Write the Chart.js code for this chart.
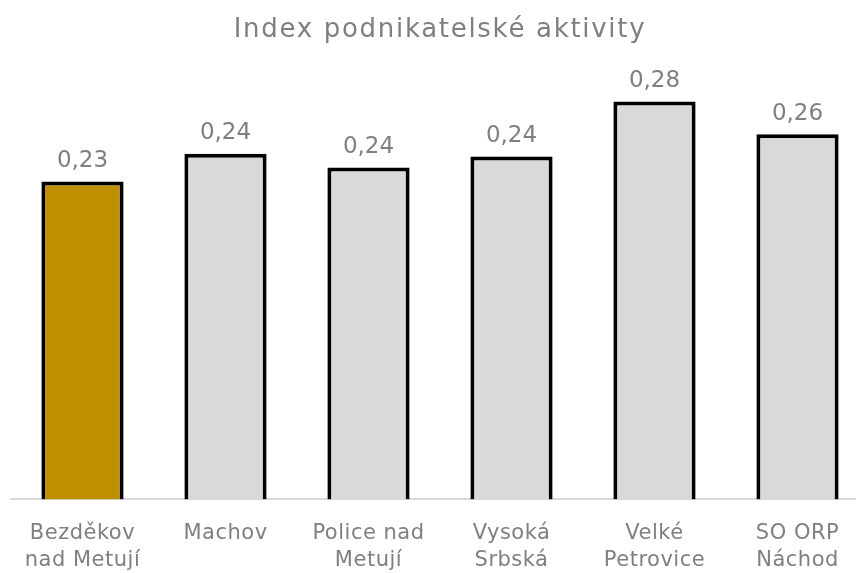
<!DOCTYPE html>
<html lang="en">

<head>
    <meta charset="UTF-8">
    <title>Index podnikatelské aktivity</title>
    <script src="https://cdn.jsdelivr.net/npm/chart.js@4.4.1/dist/chart.umd.min.js"></script>
    <style>
        html, body { margin: 0; padding: 0; overflow: hidden; background: #fff; }
        #wrap { width: 869px; height: 587px; }
    </style>
</head>

<body>
    <div id="wrap"><canvas id="chart"></canvas></div>
    <script>

        const chartTitle = "Index podnikatelské aktivity";
        const categories = [
            ["Bezděkov", "nad Metují"],
            ["Machov"],
            ["Police nad", "Metují"],
            ["Vysoká", "Srbská"],
            ["Velké", "Petrovice"],
            ["SO ORP", "Náchod"]
        ];
        const values = [0.2253, 0.2449, 0.2352, 0.2430, 0.2819, 0.2588];
        const barColors = ["#bf8f00", "#d9d9d9", "#d9d9d9", "#d9d9d9", "#d9d9d9", "#d9d9d9"];

        const textGray = "#7f7f7f";
        const fontFamily = "'DejaVu Sans', Verdana, sans-serif";

        // slightly wider text spacing for the axis labels, like the original
        const spacing = {
            id: "spacing",
            beforeDraw(chart) {
                chart.ctx.letterSpacing = "0.5px";
            }
        };

        // title drawn by hand so it can get its own letter spacing
        const titleText = {
            id: "titleText",
            afterDraw(chart) {
                const ctx = chart.ctx;
                const area = chart.chartArea;
                ctx.save();
                ctx.letterSpacing = "1.7px";
                ctx.font = "26px " + fontFamily;
                ctx.fillStyle = textGray;
                ctx.textAlign = "center";
                ctx.textBaseline = "alphabetic";
                ctx.fillText(chartTitle, (area.left + area.right) / 2, 37);
                ctx.restore();
            }
        };

        // value labels above the bars (no datalabels plugin available offline)
        const valueLabels = {
            id: "valueLabels",
            afterDatasetsDraw(chart) {
                const ctx = chart.ctx;
                const meta = chart.getDatasetMeta(0);
                ctx.save();
                ctx.letterSpacing = "0px";
                ctx.font = "23px " + fontFamily;
                ctx.fillStyle = textGray;
                ctx.textAlign = "center";
                ctx.textBaseline = "alphabetic";
                meta.data.forEach((bar, i) => {
                    const txt = values[i].toFixed(2).replace(".", ",");
                    ctx.fillText(txt, bar.x, bar.y - 14.5);
                });
                ctx.restore();
            }
        };

        const ctx = document.getElementById("chart").getContext("2d");
        const myChart = new Chart(ctx, {
            type: "bar",
            data: {
                labels: categories,
                datasets: [{
                    data: values,
                    backgroundColor: barColors,
                    borderColor: "#000000",
                    borderWidth: 4,
                    borderSkipped: "bottom",
                    barPercentage: 0.575,
                    categoryPercentage: 1.0
                }]
            },
            options: {
                responsive: true,
                maintainAspectRatio: false,
                animation: false,
                layout: { padding: { left: 11, right: 0, top: 76, bottom: 0 } },
                plugins: {
                    legend: { display: false },
                    tooltip: { enabled: false },
                    title: { display: false }
                },
                scales: {
                    x: {
                        grid: { display: false },
                        border: { display: true, color: "#d9d9d9", width: 2 },
                        ticks: {
                            color: textGray,
                            font: { family: fontFamily, size: 21, lineHeight: 1.3 },
                            padding: 12.5,
                            maxRotation: 0,
                            autoSkip: false
                        }
                    },
                    y: {
                        display: false,
                        min: 0,
                        max: 0.3
                    }
                }
            },
            plugins: [spacing, titleText, valueLabels]
        });

    </script>
</body>

</html>
